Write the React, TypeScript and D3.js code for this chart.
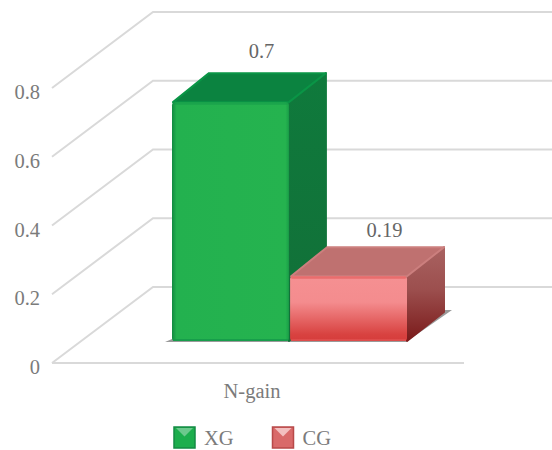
import React from 'react';
import * as d3 from 'd3';

const groups = ['XG', 'CG'];
const values = [0.7, 0.19];
const ticks = [0, 0.2, 0.4, 0.6, 0.8];
const categoryLabel = 'N-gain';

const width = 552;
const height = 450;
const textColor = '#7b7b7b';
const font = '"Liberation Serif", serif';

// front wall of the chart box, the back wall is this shifted by wall
const y = d3.scaleLinear().domain([0, 0.8]).range([363, 88]);
const wall = { dx: 101, dy: -76 };
const barBase = 341;
const barScale = d3.scaleLinear().domain([0, 0.8]).range([0, 273]);
const x = d3.scaleBand().domain(groups).range([172, 407]).paddingInner(0.01);
const depth = { dx: 37, dy: -29 };
// label nudges, the two labels do not sit the same way on their bars
const labelNudge = [{ dx: 31, dy: -15 }, { dx: 36, dy: -10 }];

const poly = (pts: number[][]) => d3.line()(pts as [number, number][]) + 'Z';

const colors: Record<string, any> = {
    XG: { front: 'url(#xgFront)', top: '#0b8340', topEdge: '#0a9546', side: 'url(#xgSide)', edge: '#14994a' },
    CG: { front: 'url(#cgFront)', top: '#bf7170', topEdge: '#cc7f7e', side: 'url(#cgSide)', edge: '#e0504f' },
};

const App: React.FC = () => {
    return (
        <svg width={width} height={height} style={{ position: 'absolute', left: 0, top: 0, background: '#fff' }}>
            <defs>
                <linearGradient id="xgFront" x1="0" x2="1" y1="0" y2="0">
                    <stop offset="0" stopColor="#128a41" />
                    <stop offset="0.04" stopColor="#23b14f" />
                    <stop offset="0.97" stopColor="#25b34f" />
                    <stop offset="1" stopColor="#1a9f48" />
                </linearGradient>
                <linearGradient id="xgSide" x1="0" x2="0" y1="0" y2="1">
                    <stop offset="0" stopColor="#0f7a3c" />
                    <stop offset="1" stopColor="#126f38" />
                </linearGradient>
                <linearGradient id="cgFront" x1="0" x2="0" y1="0" y2="1">
                    <stop offset="0" stopColor="#f59092" />
                    <stop offset="0.4" stopColor="#f48c8e" />
                    <stop offset="0.9" stopColor="#d84240" />
                    <stop offset="1" stopColor="#d63c3b" />
                </linearGradient>
                <linearGradient id="cgSide" x1="0" x2="0" y1="0" y2="1">
                    <stop offset="0" stopColor="#a96261" />
                    <stop offset="0.45" stopColor="#9c4f4e" />
                    <stop offset="1" stopColor="#7a1a1a" />
                </linearGradient>
                <filter id="soft" x="-5%" y="-5%" width="110%" height="110%">
                    <feGaussianBlur stdDeviation="0.5" />
                </filter>
                <filter id="legendSoft" x="-5%" y="-5%" width="110%" height="110%">
                    <feGaussianBlur stdDeviation="0.7" />
                </filter>
            </defs>

            {/* walls */}
            {ticks.map(t => (
                <path
                    key={t}
                    d={`M52,${y(t)}L${52 + wall.dx},${y(t) + wall.dy}L${width},${y(t) + wall.dy}`}
                    fill="none"
                    stroke="#d9d9d9"
                    strokeWidth={2}
                />
            ))}
            <line x1={52} x2={464} y1={y(0)} y2={y(0)} stroke="#d9d9d9" strokeWidth={2} />

            {ticks.map(t => (
                <text key={t} x={40} y={y(t) + 9} dy={2} textAnchor="end" fontFamily={font} fontSize={20.5} fill={textColor}>
                    {d3.format('~g')(t)}
                </text>
            ))}

            {/* floor shadow under the bars */}
            <path
                d={poly([[165, barBase + 1], [406, barBase + 1], [452, 310], [443, 310], [406, barBase - 2], [172, barBase - 2]])}
                fill="#9a9a9a"
                filter="url(#soft)"
            />

            {groups.map((g, i) => {
                const x0 = x(g)!;
                const bw = x.bandwidth();
                const top = barBase - barScale(values[i]);
                const c = colors[g];
                return (
                    <g key={g}>
                        <path
                            d={poly([[x0 + bw, top], [x0 + bw + depth.dx, top + depth.dy], [x0 + bw + depth.dx, barBase + depth.dy], [x0 + bw, barBase]])}
                            fill={c.side}
                            stroke={c.side}
                            strokeWidth={2}
                            strokeLinejoin="round"
                        />
                        <path
                            d={poly([[x0 + 1, top], [x0 + depth.dx, top + depth.dy], [x0 + bw + depth.dx, top + depth.dy], [x0 + bw, top]])}
                            fill={c.top}
                            stroke={c.topEdge}
                            strokeWidth={2}
                            strokeLinejoin="round"
                        />
                        <rect x={x0} y={top} width={bw} height={barBase - top} rx={3} fill={c.front} />
                        <rect x={x0 + 1} y={top} width={bw - 2} height={2.5} rx={1} fill={c.edge} opacity={0.55} />
                        <rect x={x0 + 1} y={barBase - 2} width={bw - 2} height={2} fill={c.edge} opacity={0.8} />
                        <text
                            x={x0 + bw / 2 + labelNudge[i].dx}
                            y={top + depth.dy + labelNudge[i].dy}
                            textAnchor="middle"
                            fontFamily={font}
                            fontSize={20.5}
                            fill="#666"
                        >
                            {values[i]}
                        </text>
                    </g>
                );
            })}

            <text x={252} y={398} textAnchor="middle" fontFamily={font} fontSize={20.5} fill={textColor}>
                {categoryLabel}
            </text>

            {/* legend */}
            {groups.map((g, i) => {
                const lx = 174 + i * 98.5;
                const ly = 427;
                const s = 21;
                const pal = i === 0
                    ? { edge: '#138a43', t: '#6cc98d', m: '#1fae4e' }
                    : { edge: '#b84a4a', t: '#f3c0c0', m: '#d96a6a' };
                const cx = lx + s / 2;
                const cy = ly + s / 2 - 1;
                return (
                    <g key={g}>
                        <g filter="url(#legendSoft)">
                            <rect x={lx} y={ly} width={s} height={s} fill={pal.m} stroke={pal.edge} strokeWidth={1.5} />
                            <path d={poly([[lx + 2, ly + 1], [lx + s - 2, ly + 1], [cx, cy]])} fill={pal.t} />
                        </g>
                        <text x={lx + 30} y={ly + 18} fontFamily={font} fontSize={20.5} fill={textColor}>
                            {g}
                        </text>
                    </g>
                );
            })}
        </svg>
    );
};

export default App;
